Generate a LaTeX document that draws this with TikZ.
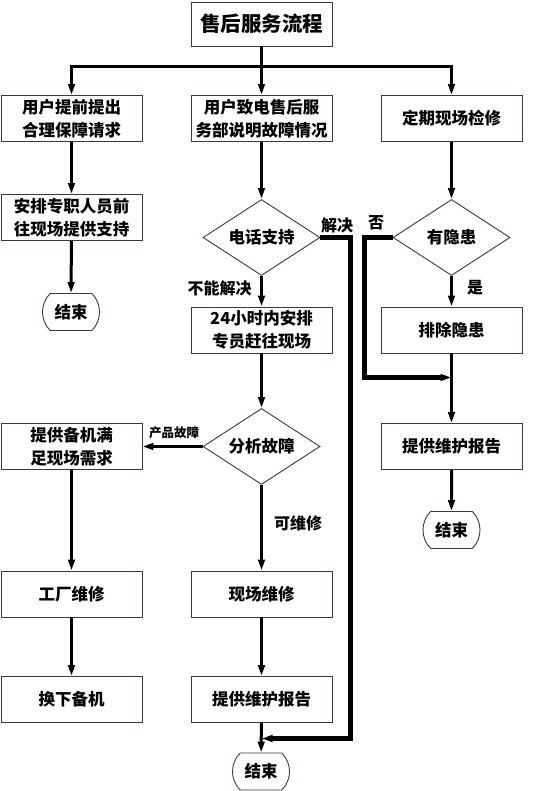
\documentclass[tikz,border=0pt]{standalone}
\usepackage{fontspec}
\setmainfont{Noto Sans CJK SC}
\usetikzlibrary{arrows.meta,shapes.geometric,shapes.misc}
\definecolor{edgebrown}{RGB}{72,52,52}

\begin{document}
\begin{tikzpicture}[x=1pt,y=-1pt,
        stepbox/.style={draw=edgebrown, line width=0.9pt, minimum width=141pt, minimum height=46pt,
            inner sep=0pt, align=center, font=\fontsize{16.5}{23}\selectfont\bfseries},
        decide/.style={diamond, draw=edgebrown, line width=0.9pt, minimum width=117pt, minimum height=76pt,
            inner sep=0pt, aspect=1.54, font=\fontsize{16.5}{20}\selectfont\bfseries},
        stop/.style={rounded rectangle, rounded rectangle arc length=90, draw=edgebrown, line width=0.9pt,
            minimum width=57pt, minimum height=37pt, inner sep=0pt, font=\fontsize{16.5}{20}\selectfont\bfseries},
        lbl/.style={inner sep=0pt, font=\fontsize{16}{20}\selectfont\bfseries},
        flow/.style={line width=3pt},
        arrow/.style={line width=3pt, -{Triangle[length=11pt,width=6.5pt]}}]
    \useasboundingbox (0,0) rectangle (534,791);

    % top
    \node[stepbox, minimum height=44pt, font=\fontsize{20.5}{24}\selectfont\bfseries] (title) at (261.5,24) {售后服务流程};
    \coordinate (split) at (261.5,66.5);

    % left column
    \node[stepbox] (ask) at (71.5,118.5) {用户提前提出\\合理保障请求};
    \node[stepbox] (send) at (71.5,217.5) {安排专职人员前\\往现场提供支持};
    \node[stop] (endleft) at (71,312) {结束};
    \node[stepbox] (spare) at (71.5,446.5) {提供备机满\\足现场需求};
    \node[stepbox] (factory) at (71.5,594) {工厂维修};
    \node[stepbox] (swap) at (71.5,699.5) {换下备机};

    % middle column
    \node[stepbox] (call) at (261.5,118.5) {用户致电售后服\\务部说明故障情况};
    \node[decide] (phone) at (261.5,237.5) {电话支持};
    \node[stepbox] (visit) at (261.5,330) {24小时内安排\\专员赶往现场};
    \node[decide] (analyse) at (261.5,446.5) {分析故障};
    \node[stepbox] (onsite) at (261.5,594) {现场维修};
    \node[stepbox] (report) at (261.5,699.5) {提供维护报告};
    \node[stop] (endmid) at (261,771.5) {结束};

    % right column
    \node[stepbox] (check) at (451.5,118.5) {定期现场检修};
    \node[decide] (risk) at (451.5,237.5) {有隐患};
    \node[stepbox] (remove) at (451.5,330) {排除隐患};
    \node[stepbox] (reportright) at (451.5,446.5) {提供维护报告};
    \node[stop] (endright) at (451.5,530) {结束};

    % labels
    \node[lbl] (solvedtxt) at (337,225) {解决};
    \node[lbl] (unsolvedtxt) at (219.5,288) {不能解决};
    \node[lbl] (notxt) at (376,223) {否};
    \node[lbl] (yestxt) at (475,288) {是};
    \node[lbl, font=\fontsize{12.5}{15}\selectfont\bfseries] (producttxt) at (174,433) {产品故障};
    \node[lbl] (fixabletxt) at (298,523) {可维修};

    % connectors
    \draw[flow] (title) -- (split);
    \draw[arrow] (split) -| (ask);
    \draw[arrow] (split) -- (call);
    \draw[arrow] (split) -| (check);

    \draw[arrow] (ask) -- (send);
    \draw[arrow] (send) -- (endleft);
    \draw[arrow] (spare) -- (factory);
    \draw[arrow] (factory) -- (swap);

    \draw[arrow] (call) -- (phone);
    \draw[arrow] (phone) -- (visit);
    \draw[arrow] (visit) -- (analyse);
    \draw[arrow] (analyse) -- (spare);
    \draw[arrow] (analyse) -- (onsite);
    \draw[arrow] (onsite) -- (report);
    \draw[arrow] (report) -- (endmid);
    \coordinate (bypass) at (350.5,738.5);
    \coordinate (join) at (261.5,738.5);
    \draw[arrow, line width=4.5pt] (phone.east) -| (bypass) -- (join);

    \draw[arrow] (check) -- (risk);
    \draw[arrow] (risk) -- (remove);
    \draw[arrow] (remove) -- (reportright);
    \draw[arrow] (reportright) -- (endright);
    \coordinate (elbow) at (364.5,377.5);
    \coordinate (meet) at (451.5,377.5);
    \draw[arrow, line width=4.5pt] (risk.west) -| (elbow) -- (meet);
\end{tikzpicture}
\end{document}
